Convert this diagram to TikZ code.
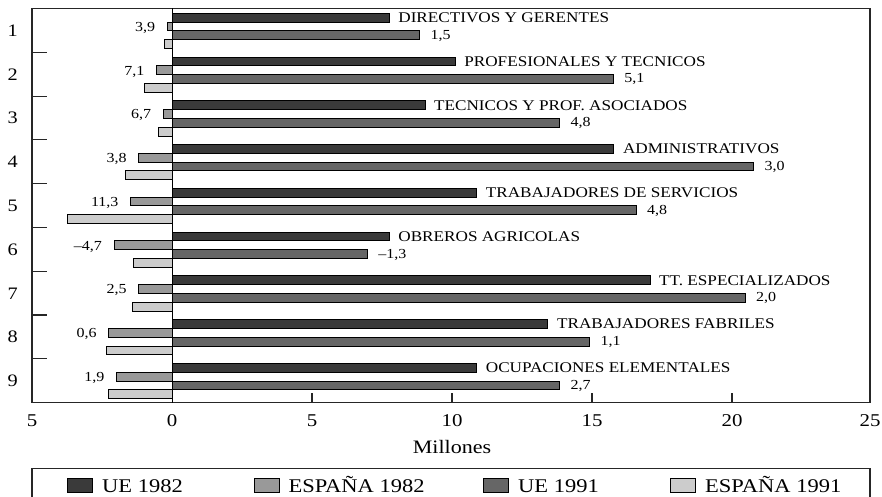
\documentclass[tikz,border=0pt]{standalone}
\usepackage{fontspec}
\setmainfont{Liberation Serif}[FakeStretch=1.16]
\definecolor{cueA}{HTML}{3A3A3A}
\definecolor{cesA}{HTML}{999999}
\definecolor{cueB}{HTML}{666666}
\definecolor{cesB}{HTML}{CCCCCC}
\begin{document}
\begin{tikzpicture}[x=1pt,y=-1pt,
  bar/.style={draw=black,line width=0.9pt},
  frame/.style={draw=black!85,line width=1.1pt},
  catlab/.style={anchor=base west,inner sep=0,font=\fontsize{14.8}{16}\selectfont},
  vallab/.style={inner sep=0,font=\fontsize{13.8}{15}\selectfont},
  numlab/.style={anchor=base,inner sep=0,font=\fontsize{17.5}{19}\selectfont},
  axlab/.style={anchor=base,inner sep=0,font=\fontsize{18}{20}\selectfont},
  leglab/.style={anchor=base west,inner sep=0,font=\fontsize{19.4}{22}\selectfont},
  swatch/.style={draw=black,line width=0.9pt}]
\useasboundingbox (0,0) rectangle (882,497);
\fill[white] (0,0) rectangle (882,497);
\foreach \i/\a/\b/\c/\d/\nm/\l/\r in {
  1/7.77/0.17/8.85/0.26/{DIRECTIVOS Y GERENTES}/{3,9}/{1,5},
  2/10.13/0.55/15.78/1.0/{PROFESIONALES Y TECNICOS}/{7,1}/{5,1},
  3/9.05/0.31/13.86/0.5/{TECNICOS Y PROF. ASOCIADOS}/{6,7}/{4,8},
  4/15.81/1.19/20.8/1.68/{ADMINISTRATIVOS}/{3,8}/{3,0},
  5/10.9/1.48/16.6/3.75/{TRABAJADORES DE SERVICIOS}/{11,3}/{4,8},
  6/7.77/2.07/6.98/1.38/{OBREROS AGRICOLAS}/{–4,7}/{–1,3},
  7/17.1/1.19/20.5/1.43/{TT. ESPECIALIZADOS}/{2,5}/{2,0},
  8/13.45/2.26/14.93/2.36/{TRABAJADORES FABRILES}/{0,6}/{1,1},
  9/10.9/1.98/13.86/2.26/{OCUPACIONES ELEMENTALES}/{1,9}/{2,7}}{
  \pgfmathsetmacro\t{8.5+43.78*(\i-1)+4.7}
  \draw[bar,fill=cueA] (172,\t) rectangle ({172+27.95*\a},{\t+8.8});
  \draw[bar,fill=cesA] ({172-27.95*\b},{\t+8.8}) rectangle (172,{\t+17.6});
  \draw[bar,fill=cueB] (172,{\t+17.6}) rectangle ({172+27.95*\c},{\t+26.4});
  \draw[bar,fill=cesB] ({172-27.95*\d},{\t+26.4}) rectangle (172,{\t+35.2});
  \node[catlab] (cat\i) at ({172+27.95*\a+9},{\t+9.3}) {\nm};
  \node[vallab,anchor=base east] (l\i) at ({172-27.95*\b-12},{\t+18.1}) {\l};
  \node[vallab,anchor=base west] (r\i) at ({172+27.95*\c+11},{\t+25.9}) {\r};
  \node[numlab] (n\i) at (12.7,{8.5+43.78*(\i-0.5)+6}) {\i};
}
% frame and axes
\draw[frame] (32,8.5) rectangle (870,402.5);
\draw[black,line width=1pt] (172,8.5) -- (172,402.5);
\foreach \k in {1,...,8}{
  \draw[frame] (32,{8.5+43.78*\k}) -- (47,{8.5+43.78*\k});
}
\foreach \x in {312,452,592,732}{
  \draw[frame] (\x,402.5) -- (\x,392.5);
}
\foreach \v/\x [count=\j] in {5/32,0/172,5/312,10/452,15/592,20/732,25/870}{
  \node[axlab] (ax\j) at (\x,426.7) {\v};
}
\node[axlab,font=\fontsize{19}{21}\selectfont] (xtitle) at (452,453.3) {Millones};
% legend
\draw[frame] (32,497.5) -- (32,468.3) -- (870,468.3) -- (870,497.5);
\foreach \x/\tx/\c/\lab [count=\j] in {67.7/102/cueA/{UE 1982},254.3/288.3/cesA/{ESPAÑA 1982},483.3/518/cueB/{UE 1991},670.7/705/cesB/{ESPAÑA 1991}}{
  \draw[swatch,fill=\c] (\x,478.3) rectangle ({\x+25},492.3);
  \node[leglab] (leg\j) at (\tx,492.3) {\lab};
}
\end{tikzpicture}
\end{document}
